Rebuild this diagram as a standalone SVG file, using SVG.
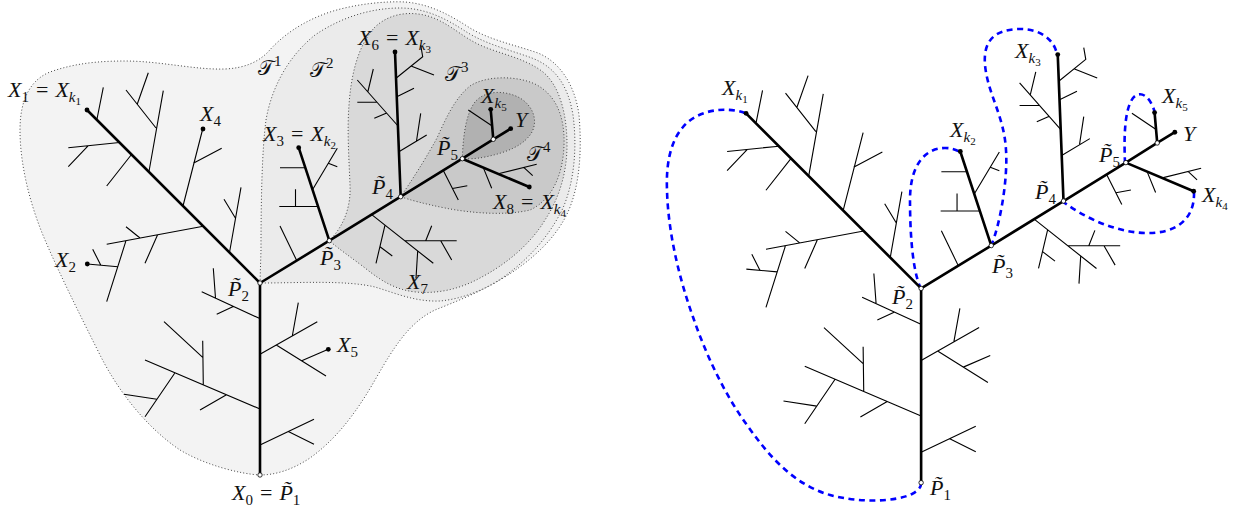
<svg xmlns="http://www.w3.org/2000/svg" xmlns:xlink="http://www.w3.org/1999/xlink" width="1239" height="508" viewBox="0 0 1239 508">
<style>
.bold{fill:none;stroke:#000;stroke-width:2.6;stroke-linecap:round;stroke-linejoin:round}
.thin{fill:none;stroke:#000;stroke-width:1.1;stroke-linecap:butt}
.reg{stroke:#444;stroke-width:1;stroke-dasharray:1 2.2}
.blue{fill:none;stroke:#0000ff;stroke-width:2.6;stroke-dasharray:6 4.5}
.dot{fill:#000}
.vtx{fill:#fff;stroke:#000;stroke-width:0.8}
.m{font-family:"Liberation Serif","DejaVu Serif",serif;font-size:22px;fill:#111}
.i{font-style:italic}
.s{font-size:15px}
.ss{font-size:11px}
.cal{font-family:"DejaVu Sans","Noto Sans",serif;font-size:21px}
</style>
<defs>
<g id="tree">
<path class="bold" d="M260,475 L260,283 L87,110 M260,283 L329.3,240.7 L400.7,196.7 L462.3,158.7 L493.3,139.3 L510.7,128.7 M493.3,139.3 L490.7,109.3 M462.3,158.7 L529.3,187 M329.3,240.7 L298.7,147.7 M400.7,196.7 L395,52"/>
<path class="thin" d="M97,119 L103.3,87.3 M126,90 L156,128 M148.3,72.7 L137.3,104 M149,171.5 L163.3,90.7 M119.5,142.5 L68.3,147.7 M88.3,145.6 L68.3,166.7 M131.5,154.5 L106.7,186 M183,206 L202.7,129 M193.3,163.3 L221.7,148.3 M229.5,252.5 L241,187.3 M224,199.3 L235.5,218.3 M203.3,226.3 L106.7,244.3 M126,226.7 L140,238 M157.5,235 L145,263.3 M126,240.7 L106.7,301.7 M87.3,264 L117.8,266.7 M92.7,249.3 L100.7,265
M259.3,318.3 L201.7,291.7 M213.3,268.3 L215.5,298 M216.7,314.3 L233.3,306.5 M260,354.3 L317.3,321.7 M292.3,336 L298.3,302.7 M276.7,345.2 L326,376 M301.7,360.8 L328.3,349.3 M260,409 L145,360 M203.3,385 L202.7,340.7 M164,321.7 L202.7,357.3 M175,372.8 L145,416.7 M156.9,399.3 L124,394.3 M226.5,394.7 L200,410 M260,445 L314,419.3 M288.3,431.5 L314,444.3
M312.5,189.7 L337.3,148.3 M328.3,163.3 L337.3,166.7 M305.3,167.7 L280,167.7 M318.2,206.5 L279.3,206.5 M295.5,189.3 L295.5,206.5 M296.7,260.5 L280,226
M396,78.3 L422.7,56.7 L420.7,45 M411,66 L434,75 M396.8,96.7 L414,88.3 M397.6,125.5 L357.3,80 M373.3,69 L367.8,92 M357.3,102.3 L377,102.3 M374.3,118.3 L386.7,113 M398.9,151.7 L426.7,135 M420.7,113.3 L416.5,141
M371.7,214.6 L433.3,263.3 M385,225.2 L376,263.3 M380,246.7 L392.3,256 M417.7,250.7 L416,278.3 M405,240.8 L456.7,240.8 M431.7,225.7 L425.7,240.8 M440.7,240.8 L451.7,260
M443.3,170.4 L458.3,200 M452.5,188.5 L467.3,185.7 M483.3,167.6 L491.7,188.3 M498.3,173.8 L536.7,164.3 M524,167.6 L532.7,175.7 M468.3,110 L492.2,126"/>
<g class="dot">
<circle cx="87" cy="110" r="2.4"/><circle cx="298.7" cy="147.7" r="2.4"/><circle cx="395" cy="52" r="2.4"/><circle cx="490.7" cy="109.3" r="2.4"/><circle cx="510.7" cy="128.7" r="2.4"/><circle cx="529.3" cy="187" r="2.4"/>
</g>
<g class="vtx">
<circle cx="260" cy="475" r="2.2"/><circle cx="260" cy="283" r="2.2"/><circle cx="329.3" cy="240.7" r="2.2"/><circle cx="400.7" cy="196.7" r="2.2"/><circle cx="462.3" cy="158.7" r="2.2"/><circle cx="493.3" cy="139.3" r="2.2"/>
</g>
</g>
</defs>
<g id="regions">
<path id="T1" class="reg" fill="#f3f3f3" d="M260,475 C240,474 205,465 180,450 C150,430 120,395 100,355 C80,315 60,275 45,240 C30,205 20,165 20,130 C20,100 30,80 50,72 C75,63 100,61 125,61 C160,61 195,70 225,69 C245,68 258,62 268,52 C280,38 300,22 330,12 C355,4 385,1 405,2 C430,4 450,15 470,28 C490,40 515,45 538,53 C560,62 575,85 579,115 C582,150 580,185 568,212 C555,240 530,262 500,280 C480,292 455,302 435,310 C410,322 395,345 375,380 C355,415 335,440 310,458 C292,470 275,475 260,475 Z"/>
<path id="T2" class="reg" fill="#ebebeb" d="M260,283 L261,250 C261,200 262,150 266,120 C272,85 290,55 315,35 C340,18 370,8 400,8 C425,8 445,18 465,31 C485,44 510,50 532,58 C555,67 568,85 573,115 C577,145 575,180 563,208 C550,235 530,258 505,276 C485,290 462,299 440,301 C415,302 395,293 375,287 C345,280 300,283 260,283 Z"/>
<path id="T3" class="reg" fill="#d9d9d9" d="M329.3,240.7 C345,225 351,205 350,185 C349,160 347,130 349,105 C351,75 358,45 375,27 C390,13 410,11 428,16 C448,22 462,37 480,45 C500,54 525,58 543,72 C560,86 567,115 567,145 C567,175 558,200 545,220 C530,245 505,265 480,278 C460,289 438,294 416,292 C395,290 380,280 365,268 C352,258 340,250 329.3,240.7 Z"/>
<path id="T4" class="reg" fill="#c9c9c9" d="M400.7,196.7 C412,180 425,160 437,138 C446,118 455,98 470,86 C485,76 515,75 535,84 C555,94 565,115 564,145 C563,175 552,200 530,210 C505,216 470,213 445,208 C425,204 410,200 400.7,196.7 Z"/>
<path id="T5" class="reg" fill="#b1b1b1" d="M462.3,158.7 C463,140 465,115 475,102 C485,90 505,90 520,98 C533,106 538,120 532,132 C524,146 505,153 485,157 C475,159 468,159 462.3,158.7 Z"/>
</g>
<g id="left-tree">
<use href="#tree" xlink:href="#tree"/>
<g class="dot"><circle cx="203" cy="129" r="2.4"/><circle cx="87.3" cy="264" r="2.4"/><circle cx="328.3" cy="349.3" r="2.4"/></g>
</g>
<g id="connectors">
<path class="blue" d="M745,113 C725,106 697,110 683,127 C670,142 666,165 667,190 C668,230 678,275 693,317 C706,355 725,395 747,425 C770,458 795,485 830,495 C860,503 895,502 912,494 C918,491 921,487 921,484"/>
<path class="blue" d="M921,289 C912,270 910,230 910,200 C910,165 925,148 945,148 C952,148 957,150 960,152"/>
<path class="blue" d="M991,246 C1000,225 1008,180 1006,150 C1004,115 988,95 985,65 C983,40 995,30 1018,29 C1040,28 1055,40 1057,55"/>
<path class="blue" d="M1062,201 C1085,218 1115,232 1145,233 C1175,234 1195,220 1194,192"/>
<path class="blue" d="M1125,163 C1124,140 1124,110 1133,98 C1140,90 1150,95 1155,113"/>
</g>
<g id="right-tree">
<use href="#tree" xlink:href="#tree" transform="translate(658,2) scale(1.012)"/>
</g>
<g id="labels-left">
<text class="m" x="8" y="97"><tspan class="i">X</tspan><tspan class="s" dy="5">1</tspan><tspan dy="-5" dx="7">=</tspan><tspan class="i" dx="7">X</tspan><tspan class="s i" dy="5">k</tspan><tspan class="ss" dy="3">1</tspan></text>
<text class="m" x="200" y="121"><tspan class="i">X</tspan><tspan class="s" dy="5">4</tspan></text>
<text class="m" x="55" y="267"><tspan class="i">X</tspan><tspan class="s" dy="5">2</tspan></text>
<text class="m" x="263" y="141"><tspan class="i">X</tspan><tspan class="s" dy="5">3</tspan><tspan dy="-5" dx="7">=</tspan><tspan class="i" dx="7">X</tspan><tspan class="s i" dy="5">k</tspan><tspan class="ss" dy="3">2</tspan></text>
<text class="m" x="358" y="45"><tspan class="i">X</tspan><tspan class="s" dy="5">6</tspan><tspan dy="-5" dx="7">=</tspan><tspan class="i" dx="7">X</tspan><tspan class="s i" dy="5">k</tspan><tspan class="ss" dy="3">3</tspan></text>
<text class="m" x="258" y="75"><tspan class="cal">𝒯</tspan><tspan class="s" dy="-9">1</tspan></text>
<text class="m" x="310" y="77"><tspan class="cal">𝒯</tspan><tspan class="s" dy="-9">2</tspan></text>
<text class="m" x="445" y="81"><tspan class="cal">𝒯</tspan><tspan class="s" dy="-9">3</tspan></text>
<text class="m" x="527" y="161"><tspan class="cal">𝒯</tspan><tspan class="s" dy="-9">4</tspan></text>
<text class="m" x="481" y="103"><tspan class="i">X</tspan><tspan class="s i" dy="5">k</tspan><tspan class="ss" dy="3">5</tspan></text>
<text class="m i" x="515" y="127">Y</text>
<text class="m" x="437" y="155"><tspan class="i">P̃</tspan><tspan class="s" dy="5">5</tspan></text>
<text class="m" x="372" y="194"><tspan class="i">P̃</tspan><tspan class="s" dy="5">4</tspan></text>
<text class="m" x="493" y="209"><tspan class="i">X</tspan><tspan class="s" dy="5">8</tspan><tspan dy="-5" dx="7">=</tspan><tspan class="i" dx="7">X</tspan><tspan class="s i" dy="5">k</tspan><tspan class="ss" dy="3">4</tspan></text>
<text class="m" x="320" y="265"><tspan class="i">P̃</tspan><tspan class="s" dy="5">3</tspan></text>
<text class="m" x="407" y="289"><tspan class="i">X</tspan><tspan class="s" dy="5">7</tspan></text>
<text class="m" x="228" y="296"><tspan class="i">P̃</tspan><tspan class="s" dy="5">2</tspan></text>
<text class="m" x="337" y="352"><tspan class="i">X</tspan><tspan class="s" dy="5">5</tspan></text>
<text class="m" x="232" y="500"><tspan class="i">X</tspan><tspan class="s" dy="5">0</tspan><tspan dy="-5" dx="7">=</tspan><tspan class="i" dx="7">P̃</tspan><tspan class="s" dy="5">1</tspan></text>
</g>
<g id="labels-right">
<text class="m" x="722" y="95"><tspan class="i">X</tspan><tspan class="s i" dy="5">k</tspan><tspan class="ss" dy="3">1</tspan></text>
<text class="m" x="950" y="137"><tspan class="i">X</tspan><tspan class="s i" dy="5">k</tspan><tspan class="ss" dy="3">2</tspan></text>
<text class="m" x="1015" y="58"><tspan class="i">X</tspan><tspan class="s i" dy="5">k</tspan><tspan class="ss" dy="3">3</tspan></text>
<text class="m" x="1162" y="103"><tspan class="i">X</tspan><tspan class="s i" dy="5">k</tspan><tspan class="ss" dy="3">5</tspan></text>
<text class="m i" x="1183" y="141">Y</text>
<text class="m" x="1099" y="162"><tspan class="i">P̃</tspan><tspan class="s" dy="5">5</tspan></text>
<text class="m" x="1035" y="199"><tspan class="i">P̃</tspan><tspan class="s" dy="5">4</tspan></text>
<text class="m" x="1202" y="202"><tspan class="i">X</tspan><tspan class="s i" dy="5">k</tspan><tspan class="ss" dy="3">4</tspan></text>
<text class="m" x="992" y="273"><tspan class="i">P̃</tspan><tspan class="s" dy="5">3</tspan></text>
<text class="m" x="892" y="304"><tspan class="i">P̃</tspan><tspan class="s" dy="5">2</tspan></text>
<text class="m" x="930" y="495"><tspan class="i">P̃</tspan><tspan class="s" dy="5">1</tspan></text>
</g>
</svg>
